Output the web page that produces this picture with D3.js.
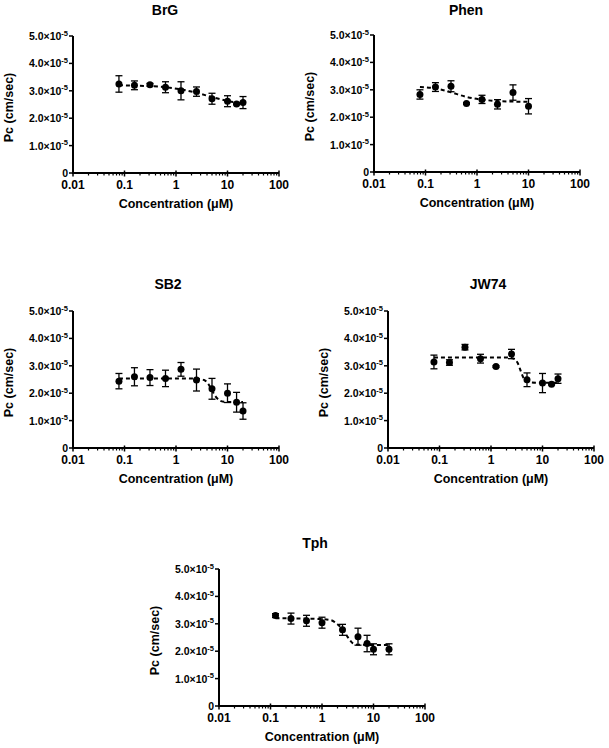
<!DOCTYPE html>
<html>
<head>
<meta charset="utf-8">
<script src="https://cdn.jsdelivr.net/npm/d3@7"></script>
<style>
  body { margin: 0; background: #fff; }
  svg text { font-family: "Liberation Sans", Arial, sans-serif; font-weight: bold; fill: #000; }
</style>
</head>
<body>
<svg id="drawing_region"></svg>
<script>
// concentrations (uM), Pc values in units of 1e-5 cm/sec
const concStd = [0.078, 0.156, 0.3125, 0.625, 1.25, 2.5, 5, 10, 15, 20];
const concPhen = [0.078, 0.156, 0.3125, 0.625, 1.25, 2.5, 5, 10];
const concTph = [0.125, 0.25, 0.5, 1, 2.5, 5, 7.5, 10, 20];

const brgMean = [3.25, 3.2, 3.22, 3.13, 3.0, 2.97, 2.71, 2.62, 2.52, 2.57];
const brgErr  = [0.3, 0.16, 0.05, 0.2, 0.33, 0.17, 0.2, 0.2, 0.03, 0.22];
const brgFitX = [0.078, 0.156, 0.3125, 0.625, 1.25, 2.5, 5, 10, 15, 20];
const brgFitY = [3.2, 3.19, 3.17, 3.13, 3.05, 2.93, 2.77, 2.63, 2.57, 2.54];

const phenMean = [2.83, 3.1, 3.13, 2.5, 2.65, 2.47, 2.9, 2.4];
const phenErr  = [0.17, 0.16, 0.2, 0.03, 0.15, 0.17, 0.28, 0.28];
const phenFitX = [0.078, 0.156, 0.3125, 0.625, 1.25, 2.5, 5, 10];
const phenFitY = [3.1, 3.05, 2.91, 2.74, 2.64, 2.59, 2.57, 2.56];

const sb2Mean = [2.44, 2.6, 2.57, 2.54, 2.87, 2.48, 2.16, 2.0, 1.67, 1.35];
const sb2Err  = [0.28, 0.33, 0.29, 0.3, 0.25, 0.4, 0.38, 0.34, 0.36, 0.3];
const sb2FitX = [0.078, 1, 2.5, 3.5, 4.2, 5, 6, 7, 8.5, 10, 20];
const sb2FitY = [2.54, 2.54, 2.53, 2.48, 2.35, 2.1, 1.86, 1.74, 1.69, 1.68, 1.68];

const jwMean = [3.14, 3.12, 3.68, 3.26, 2.97, 3.43, 2.49, 2.37, 2.33, 2.53];
const jwErr  = [0.25, 0.1, 0.1, 0.16, 0.03, 0.17, 0.25, 0.35, 0.03, 0.17];
const jwFitX = [0.078, 2, 2.8, 3.3, 3.8, 4.3, 5, 6, 8, 20];
const jwFitY = [3.3, 3.3, 3.26, 3.1, 2.8, 2.55, 2.43, 2.39, 2.38, 2.38];

const tphMean = [3.3, 3.19, 3.11, 3.04, 2.78, 2.53, 2.28, 2.07, 2.07];
const tphErr  = [0.07, 0.2, 0.2, 0.2, 0.2, 0.31, 0.3, 0.2, 0.2];
const tphFitX = [0.125, 0.5, 1, 1.5, 2, 2.5, 3, 3.5, 4, 5, 7.5, 20];
const tphFitY = [3.2, 3.19, 3.17, 3.13, 2.98, 2.8, 2.58, 2.4, 2.29, 2.24, 2.23, 2.23];

const yTicks = [0, 1, 2, 3, 4, 5];
const xTicks = [0.01, 0.1, 1, 10, 100];
const xTickLabels = ['0.01', '0.1', '1', '10', '100'];

const zip = (xs, ys, es) => xs.map((x, i) => ({x: x, y: ys[i], e: es ? es[i] : 0}));

const panels = [
  {title: 'BrG',  left: 73,  top: 36,  titleX: 165, titleY: 15,  data: zip(concStd, brgMean, brgErr),  fit: zip(brgFitX, brgFitY)},
  {title: 'Phen', left: 374, top: 35,  titleX: 466, titleY: 15,  data: zip(concPhen, phenMean, phenErr), fit: zip(phenFitX, phenFitY)},
  {title: 'SB2',  left: 73,  top: 311, titleX: 168, titleY: 289, data: zip(concStd, sb2Mean, sb2Err),  fit: zip(sb2FitX, sb2FitY)},
  {title: 'JW74', left: 388, top: 311, titleX: 488, titleY: 289, data: zip(concStd, jwMean, jwErr),    fit: zip(jwFitX, jwFitY)},
  {title: 'Tph',  left: 219, top: 569, titleX: 315, titleY: 548, data: zip(concTph, tphMean, tphErr),  fit: zip(tphFitX, tphFitY)}
];

const svg = d3.select('#drawing_region')
    .attr('width', 609)
    .attr('height', 748);

class DosePanel {
  constructor( config ) {
    this.config = config;
    this.width = 206;
    this.height = 137;
    this.init();
  }

  init() {
    let self = this;
    self.chart = svg.append('g')
        .attr('transform', `translate(${self.config.left}, ${self.config.top})`);

    self.xscale = d3.scaleLog().domain([0.01, 100]).range([0, self.width]);
    self.yscale = d3.scaleLinear().domain([0, 5]).range([self.height, 0]);
    self.render();
  }

  render() {
    let self = this;
    const c = self.chart;

    // x axis with minor log ticks
    const minor = [];
    [0.01, 0.1, 1, 10].forEach(d => { for (let k = 2; k <= 9; k++) minor.push(d * k); });
    c.append('g').selectAll('line').data(minor).join('line')
        .attr('x1', d => self.xscale(d)).attr('x2', d => self.xscale(d))
        .attr('y1', self.height).attr('y2', self.height + 2.5)
        .attr('stroke', '#000').attr('stroke-width', 1.2);
    c.append('g').selectAll('line').data(xTicks).join('line')
        .attr('x1', d => self.xscale(d)).attr('x2', d => self.xscale(d))
        .attr('y1', self.height - 2.5).attr('y2', self.height + 3.5)
        .attr('stroke', '#000').attr('stroke-width', 1.5);
    c.append('line')
        .attr('x1', -1).attr('x2', self.width)
        .attr('y1', self.height).attr('y2', self.height)
        .attr('stroke', '#000').attr('stroke-width', 2);
    c.append('g').selectAll('text').data(xTicks).join('text')
        .attr('x', d => self.xscale(d))
        .attr('y', self.height + 16)
        .attr('text-anchor', 'middle')
        .attr('font-size', '12px')
        .text((d, i) => xTickLabels[i]);

    // y axis
    c.append('line')
        .attr('x1', 0).attr('x2', 0)
        .attr('y1', 0).attr('y2', self.height + 1)
        .attr('stroke', '#000').attr('stroke-width', 2);
    c.append('g').selectAll('line').data(yTicks).join('line')
        .attr('x1', -4).attr('x2', 0)
        .attr('y1', d => self.yscale(d)).attr('y2', d => self.yscale(d))
        .attr('stroke', '#000').attr('stroke-width', 1.5);
    const yl = c.append('g').selectAll('text').data(yTicks).join('text')
        .attr('x', -5)
        .attr('y', d => self.yscale(d) + 4)
        .attr('text-anchor', 'end')
        .attr('font-size', '10.5px');
    yl.each(function(d) {
      const t = d3.select(this);
      if (d === 0) { t.text('0'); return; }
      t.append('tspan').text(`${d.toFixed(1)}\u00d710`);
      t.append('tspan').attr('font-size', '7.5px').attr('dy', -4.5).text('-5');
    });

    // axis titles
    c.append('text')
        .attr('transform', `translate(-60, ${self.height / 2 + 3}) rotate(-90)`)
        .attr('text-anchor', 'middle')
        .attr('font-size', '12.5px')
        .text('Pc (cm/sec)');
    c.append('text')
        .attr('x', self.width / 2)
        .attr('y', self.height + 35)
        .attr('text-anchor', 'middle')
        .attr('font-size', '12.5px')
        .text('Concentration (\u03bcM)');
    c.append('text')
        .attr('x', self.config.titleX - self.config.left)
        .attr('y', self.config.titleY - self.config.top)
        .attr('text-anchor', 'middle')
        .attr('font-size', '14px')
        .text(self.config.title);

    // fitted curve
    const line = d3.line()
        .x(d => self.xscale(d.x))
        .y(d => self.yscale(d.y))
        .curve(d3.curveMonotoneX);
    c.append('path')
        .datum(self.config.fit)
        .attr('d', line)
        .attr('fill', 'none')
        .attr('stroke', '#000')
        .attr('stroke-width', 2)
        .attr('stroke-dasharray', '4,3');

    // error bars
    const eb = c.append('g').selectAll('g').data(self.config.data).join('g')
        .attr('stroke', '#000').attr('stroke-width', 1.3);
    eb.append('line')
        .attr('x1', d => self.xscale(d.x)).attr('x2', d => self.xscale(d.x))
        .attr('y1', d => self.yscale(d.y + d.e)).attr('y2', d => self.yscale(d.y - d.e));
    eb.append('line')
        .attr('x1', d => self.xscale(d.x) - 3.5).attr('x2', d => self.xscale(d.x) + 3.5)
        .attr('y1', d => self.yscale(d.y + d.e)).attr('y2', d => self.yscale(d.y + d.e));
    eb.append('line')
        .attr('x1', d => self.xscale(d.x) - 3.5).attr('x2', d => self.xscale(d.x) + 3.5)
        .attr('y1', d => self.yscale(d.y - d.e)).attr('y2', d => self.yscale(d.y - d.e));

    // points
    c.append('g').selectAll('circle').data(self.config.data).join('circle')
        .attr('cx', d => self.xscale(d.x))
        .attr('cy', d => self.yscale(d.y))
        .attr('r', 3.5)
        .attr('fill', '#000');
  }
}

panels.forEach(p => new DosePanel(p));
</script>
</body>
</html>
